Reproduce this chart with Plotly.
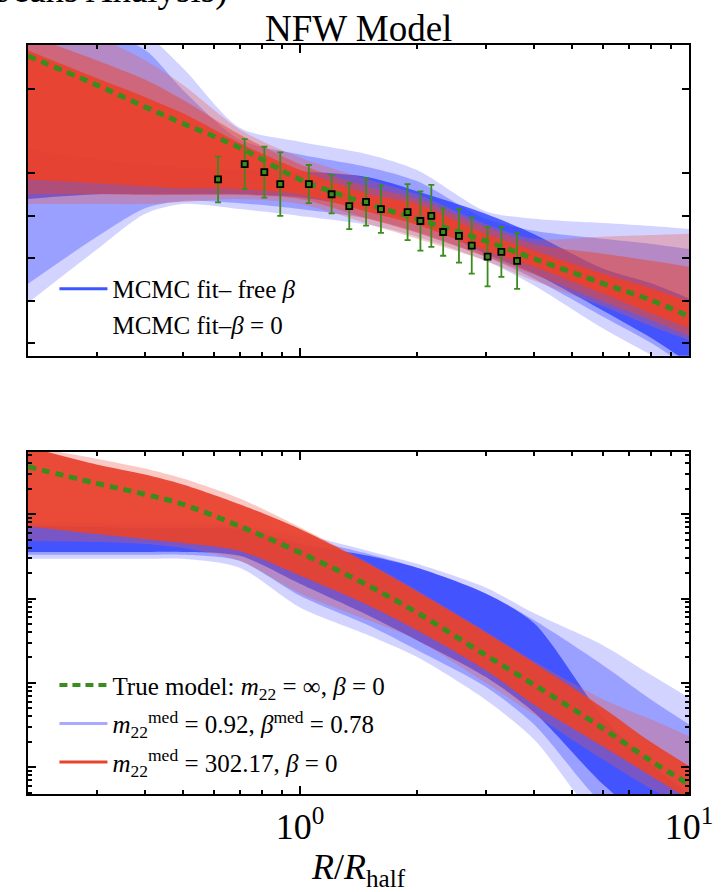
import plotly.graph_objects as go

# ---------------- data ----------------
R_nodes = [0.2, 0.3, 0.4, 0.5, 0.7, 1.0, 1.5, 2.0, 3.0, 4.0, 6.0, 8.0, 10.0]

# top panel: velocity dispersion (km/s)
sig_true = [10.77, 10.09, 9.57, 9.18, 8.61, 7.86, 7.28, 6.93, 6.41, 5.99, 5.41, 5.01, 4.63]

sig_blue_light_hi = [11.38, 11.38, 11.26, 10.49, 9.08, 8.75, 8.45, 8.08, 7.11, 6.93, 6.83, 6.76, 6.69]
sig_blue_light_lo = [4.95, 6.20, 7.05, 7.28, 7.16, 7.00, 6.79, 6.51, 5.94, 5.36, 4.35, 3.72, 3.23]
sig_blue_mid_hi = [11.38, 11.38, 10.91, 9.97, 8.80, 8.45, 8.15, 7.82, 6.93, 6.65, 6.46, 6.34, 6.22]
sig_blue_mid_lo = [5.40, 6.50, 7.18, 7.35, 7.30, 7.16, 6.93, 6.62, 6.04, 5.52, 4.63, 4.00, 3.41]
sig_blue_core_hi = [8.57, 8.33, 8.22, 8.15, 8.10, 8.05, 7.91, 7.58, 7.05, 6.57, 5.76, 5.41, 5.05]
sig_blue_core_lo = [7.40, 7.51, 7.51, 7.51, 7.51, 7.44, 7.16, 6.88, 6.11, 5.64, 4.77, 4.12, 3.53]

sig_red_light_hi = [11.38, 11.20, 10.67, 10.09, 9.04, 8.38, 7.86, 7.51, 6.81, 6.46, 6.51, 6.55, 6.58]
sig_red_light_lo = [7.28, 7.28, 7.28, 7.33, 7.40, 7.28, 6.81, 6.46, 5.94, 5.47, 4.87, 4.40, 4.07]
sig_red_mid_hi = [11.26, 10.67, 10.21, 9.74, 8.92, 8.22, 7.68, 7.40, 6.74, 6.34, 6.11, 5.94, 5.80]
sig_red_mid_lo = [7.51, 7.51, 7.49, 7.49, 7.49, 7.40, 6.93, 6.60, 6.04, 5.62, 4.98, 4.54, 4.16]
sig_red_core_hi = [10.90, 10.25, 9.80, 9.42, 8.72, 8.08, 7.51, 7.28, 6.58, 6.18, 5.64, 5.29, 4.98]
sig_red_core_lo = [7.86, 7.77, 7.70, 7.65, 7.63, 7.51, 7.09, 6.79, 6.18, 5.80, 5.17, 4.70, 4.35]

# binned data points
pts_R = [0.616, 0.721, 0.810, 0.890, 1.054, 1.206, 1.339, 1.479, 1.615,
         1.891, 2.040, 2.176, 2.334, 2.563, 2.764, 3.036, 3.294, 3.616]
pts_sig = [7.86, 8.22, 8.03, 7.75, 7.75, 7.51, 7.23, 7.33, 7.16,
           7.09, 6.88, 7.00, 6.62, 6.53, 6.30, 6.04, 6.15, 5.94]
pts_err = [0.54, 0.59, 0.60, 0.75, 0.45, 0.45, 0.54, 0.56, 0.56,
           0.66, 0.70, 0.73, 0.56, 0.63, 0.66, 0.70, 0.59, 0.66]

# bottom panel: surface density
sd_true = [3.67, 2.32, 1.72, 1.31, 0.72, 0.35, 0.142, 0.068, 0.0213, 0.0095, 0.0029, 0.00118, 0.00063]

sd_blue_light_hi = [0.805, 0.805, 0.805, 0.805, 0.763, 0.582, 0.367, 0.258, 0.135, 0.0667, 0.028, 0.0124, 0.00667]
sd_blue_light_lo = [0.296, 0.296, 0.296, 0.296, 0.232, 0.0783, 0.0367, 0.0202, 0.0063, 0.00213, 0.000213, 0.000124, 0.000124]
sd_blue_mid_hi = [0.763, 0.763, 0.763, 0.763, 0.722, 0.522, 0.338, 0.232, 0.115, 0.0551, 0.0163, 0.0063, 0.00321]
sd_blue_mid_lo = [0.33, 0.33, 0.33, 0.33, 0.28, 0.108, 0.0481, 0.0245, 0.00897, 0.00321, 0.000367, 0.000163, 0.000124]
sd_blue_core_hi = [0.722, 0.703, 0.685, 0.685, 0.667, 0.444, 0.321, 0.232, 0.115, 0.0508, 0.00398, 0.00108, 0.000481]
sd_blue_core_lo = [0.357, 0.357, 0.357, 0.357, 0.321, 0.15, 0.0631, 0.0321, 0.0118, 0.00444, 0.000631, 0.000213, 0.000124]

sd_red_light_hi = [6.3, 4.56, 3.48, 2.65, 1.54, 0.70, 0.265, 0.125, 0.041, 0.0180, 0.0064, 0.00367, 0.00232]
sd_red_light_lo = [0.481, 0.469, 0.444, 0.398, 0.280, 0.115, 0.0551, 0.0321, 0.01, 0.0042, 0.00124, 0.000551, 0.00032]
sd_red_core_hi = [6.3, 3.88, 2.95, 2.25, 1.31, 0.667, 0.258, 0.121, 0.0398, 0.0172, 0.00508, 0.00197, 0.00103]
sd_red_core_lo = [0.722, 0.582, 0.508, 0.456, 0.367, 0.187, 0.0828, 0.0421, 0.0142, 0.00551, 0.00177, 0.000783, 0.000421]

x_tick_vals = [1, 10]
x_tick_text = ["10<sup>0</sup>", "10<sup>1</sup>"]
x_minor_vals = [0.3, 0.4, 0.5, 0.6, 0.7, 0.8, 0.9, 2, 3, 4, 5, 6, 7, 8, 9]
sig_tick_vals = [4, 5, 6, 7, 8, 10]
sd_tick_vals = [0.001, 0.01, 0.1, 1]
sd_minor_vals = [0.0005, 0.0006, 0.0007, 0.0008, 0.0009,
                 0.002, 0.003, 0.004, 0.005, 0.006, 0.007, 0.008, 0.009,
                 0.02, 0.03, 0.04, 0.05, 0.06, 0.07, 0.08, 0.09,
                 0.2, 0.3, 0.4, 0.5, 0.6, 0.7, 0.8, 0.9, 2, 3, 4, 5]

# ---------------- styles ----------------
BLUE_LIGHT = "rgba(110,110,255,0.30)"
BLUE_MID = "rgba(70,85,255,0.40)"
BLUE_CORE = "rgba(45,65,255,0.80)"
RED_LIGHT = "rgba(235,90,75,0.32)"
RED_MID = "rgba(232,70,50,0.50)"
RED_CORE = "rgba(232,66,45,0.93)"
GREEN = "#3a8c1c"
SERIF = "Liberation Serif"

fig = go.Figure()


def add_band(lo, hi, color, xa, ya):
    fig.add_trace(go.Scatter(x=R_nodes, y=lo, mode="lines", line=dict(width=0, shape="spline", smoothing=0.8),
                             showlegend=False, hoverinfo="skip", xaxis=xa, yaxis=ya))
    fig.add_trace(go.Scatter(x=R_nodes, y=hi, mode="lines", line=dict(width=0, shape="spline", smoothing=0.8),
                             fill="tonexty", fillcolor=color, showlegend=False, hoverinfo="skip",
                             xaxis=xa, yaxis=ya))


# top panel
add_band(sig_blue_light_lo, sig_blue_light_hi, BLUE_LIGHT, "x", "y")
add_band(sig_blue_mid_lo, sig_blue_mid_hi, BLUE_MID, "x", "y")
add_band(sig_blue_core_lo, sig_blue_core_hi, BLUE_CORE, "x", "y")
add_band(sig_red_light_lo, sig_red_light_hi, RED_LIGHT, "x", "y")
add_band(sig_red_mid_lo, sig_red_mid_hi, RED_MID, "x", "y")
add_band(sig_red_core_lo, sig_red_core_hi, RED_CORE, "x", "y")
fig.add_trace(go.Scatter(x=R_nodes, y=sig_true, mode="lines",
                         line=dict(color=GREEN, width=5, dash="8px,6px", shape="spline"),
                         showlegend=False, xaxis="x", yaxis="y"))
fig.add_trace(go.Scatter(x=pts_R, y=pts_sig, mode="markers",
                         marker=dict(symbol="square", size=6, color=GREEN, line=dict(color="black", width=1.8)),
                         error_y=dict(type="data", array=pts_err, color=GREEN, thickness=1.8, width=3),
                         showlegend=False, xaxis="x", yaxis="y"))

# bottom panel
add_band(sd_blue_light_lo, sd_blue_light_hi, BLUE_LIGHT, "x2", "y2")
add_band(sd_blue_mid_lo, sd_blue_mid_hi, BLUE_MID, "x2", "y2")
add_band(sd_blue_core_lo, sd_blue_core_hi, BLUE_CORE, "x2", "y2")
add_band(sd_red_light_lo, sd_red_light_hi, RED_LIGHT, "x2", "y2")
add_band(sd_red_core_lo, sd_red_core_hi, RED_CORE, "x2", "y2")
fig.add_trace(go.Scatter(x=R_nodes, y=sd_true, mode="lines",
                         line=dict(color=GREEN, width=5, dash="8px,6px", shape="spline"),
                         showlegend=False, xaxis="x2", yaxis="y2"))

# legend entries
fig.add_trace(go.Scatter(x=[None], y=[None], mode="lines", line=dict(color="#3b55ff", width=3),
                         name="MCMC fit– free <i>β</i>", legend="legend", legendgroup="a",
                         xaxis="x", yaxis="y"))
fig.add_trace(go.Scatter(x=[None], y=[None], mode="lines", line=dict(color="rgba(0,0,0,0)", width=3),
                         name="MCMC fit–<i>β</i> = 0", legend="legend", legendgroup="b",
                         xaxis="x", yaxis="y"))
fig.add_trace(go.Scatter(x=[None], y=[None], mode="lines", line=dict(color=GREEN, width=4, dash="8px,5px"),
                         name="True model: <i>m</i><sub>22</sub> = ∞, <i>β</i> = 0", legend="legend2",
                         legendgroup="c", xaxis="x2", yaxis="y2"))
fig.add_trace(go.Scatter(x=[None], y=[None], mode="lines", line=dict(color="#a9a9ff", width=3),
                         name="<i>m</i><sub>22</sub><sup>med</sup> = 0.92, <i>β</i><sup>med</sup> = 0.78",
                         legend="legend2", legendgroup="d", xaxis="x2", yaxis="y2"))
fig.add_trace(go.Scatter(x=[None], y=[None], mode="lines", line=dict(color="#e8432d", width=3),
                         name="<i>m</i><sub>22</sub><sup>med</sup> = 302.17, <i>β</i> = 0",
                         legend="legend2", legendgroup="e", xaxis="x2", yaxis="y2"))

axis_common = dict(showline=True, linecolor="black", linewidth=2, mirror="allticks",
                   ticks="inside", tickcolor="black", showgrid=False, zeroline=False)

fig.update_layout(
    width=725, height=892,
    margin=dict(l=28, r=28, t=45, b=92),
    paper_bgcolor="white", plot_bgcolor="white",
    font=dict(family=SERIF, color="black", size=25),
    xaxis=dict(type="log", range=[-0.699, 1], domain=[0, 1], anchor="y",
               tickvals=x_tick_vals, ticklen=8, tickwidth=1.5, showticklabels=False,
               minor=dict(tickvals=x_minor_vals, ticks="inside", ticklen=4, tickcolor="black"),
               **axis_common),
    yaxis=dict(range=[3.70, 11.03], domain=[0.585, 1], anchor="x",
               tickvals=sig_tick_vals, ticklen=7, tickwidth=1.5, showticklabels=False,
               **axis_common),
    xaxis2=dict(type="log", range=[-0.699, 1], domain=[0, 1], anchor="y2",
                tickvals=x_tick_vals, ticktext=x_tick_text, ticklen=8, tickwidth=1.5,
                tickfont=dict(size=36, family=SERIF),
                minor=dict(tickvals=x_minor_vals, ticks="inside", ticklen=4, tickcolor="black"),
                title=dict(text="<i>R</i>/<i>R</i><sub>half</sub>", font=dict(size=36, family=SERIF), standoff=8),
                **axis_common),
    yaxis2=dict(type="log", range=[-3.318, 0.741], domain=[0, 0.457], anchor="x2",
                tickvals=sd_tick_vals, ticklen=8, tickwidth=1.5, showticklabels=False,
                minor=dict(tickvals=sd_minor_vals, ticks="inside", ticklen=4, tickcolor="black"),
                **axis_common),
    legend=dict(x=0.040, y=0.705, xanchor="left", yanchor="top", bgcolor="rgba(0,0,0,0)",
                font=dict(size=25, family=SERIF), tracegroupgap=0, itemwidth=48),
    legend2=dict(x=0.040, y=0.176, xanchor="left", yanchor="top", bgcolor="rgba(0,0,0,0)",
                 font=dict(size=25, family=SERIF), tracegroupgap=3, itemwidth=48),
    annotations=[
        dict(text="NFW Model", x=0.5, y=1.0, xref="paper", yref="paper", xanchor="center",
             yanchor="bottom", yshift=-6, showarrow=False, font=dict(size=37, family=SERIF)),
        dict(text="(Jeans Analysis)", x=0.305, y=1.0735, xref="paper", yref="paper", xanchor="right",
             yanchor="middle", showarrow=False, font=dict(size=37, family=SERIF)),
    ],
)

fig.write_html("out.html")
